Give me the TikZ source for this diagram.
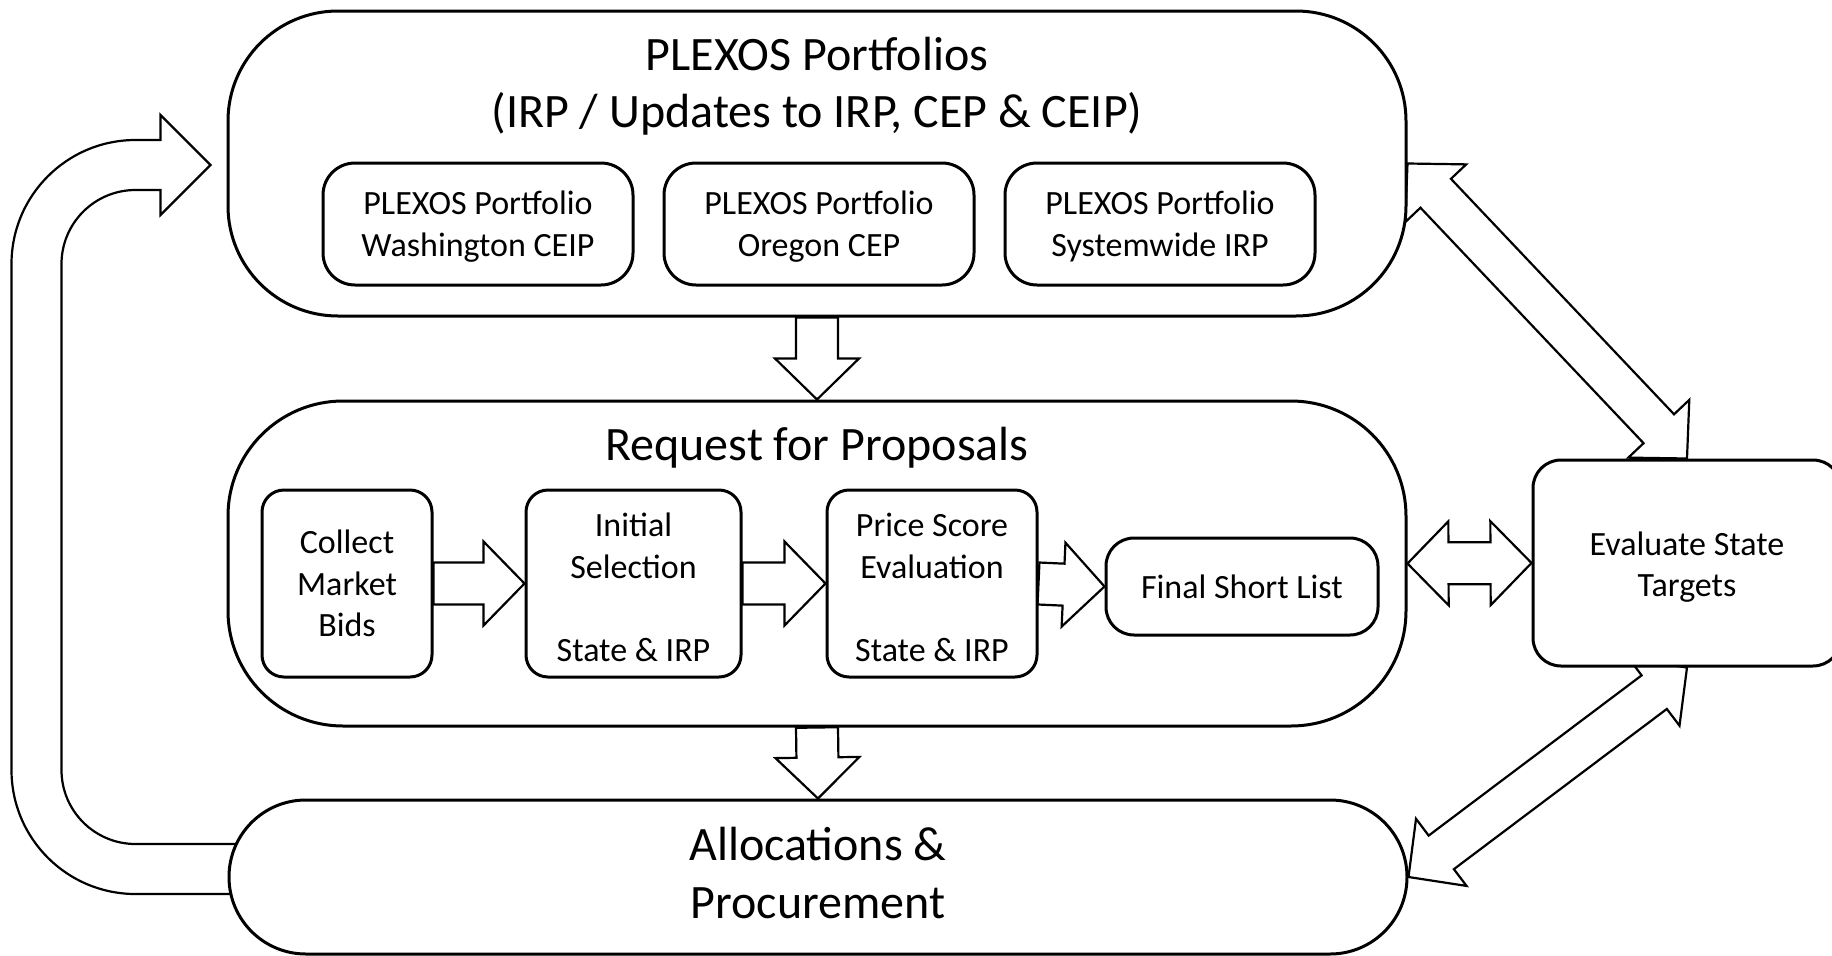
\documentclass[tikz,border=0pt]{standalone}
\usepackage{fontspec}
\setmainfont{Carlito}
\usetikzlibrary{calc}
\pgfdeclarelayer{bg}\pgfdeclarelayer{big}\pgfdeclarelayer{arr}
\pgfsetlayers{bg,big,arr,main}
\newcommand\bigfont{\fontsize{48}{58}\selectfont}
\newcommand\smallfont{\fontsize{34}{41.5}\selectfont}
\tikzset{
  bigbox/.style={draw, line width=3pt, fill=white, inner sep=0pt},
  smallbox/.style={draw, line width=3pt, fill=white, inner sep=0pt, align=center, font=\smallfont},
  smalltext/.style={inner sep=0pt, align=center, font=\smallfont},
  arrowline/.style={draw, line width=2.2pt, fill=white, line join=miter},
  bigtext/.style={font=\bigfont, inner sep=0pt, anchor=base},
  bigmtext/.style={font=\bigfont, inner sep=0pt, align=center},
}
% single-headed block arrow from #1 to tip #2
\newcommand\blockarr[2]{%
  \path ($(#2)!41pt!(#1)$) coordinate (bP);
  \draw[arrowline] ($(#1)!21pt!90:(#2)$) -- ($(bP)!21pt!90:(#2)$) -- ($(bP)!42pt!90:(#2)$) -- (#2)
    -- ($(bP)!42pt!-90:(#2)$) -- ($(bP)!21pt!-90:(#2)$) -- ($(#1)!21pt!-90:(#2)$) -- cycle;}
% double-headed block arrow between tips #1 and #2
\newcommand\dblarr[2]{%
  \path ($(#1)!41pt!(#2)$) coordinate (dP) ($(#2)!41pt!(#1)$) coordinate (dQ);
  \draw[arrowline] (#1) -- ($(dP)!42pt!90:(#2)$) -- ($(dP)!21pt!90:(#2)$)
    -- ($(dQ)!21pt!-90:(#1)$) -- ($(dQ)!42pt!-90:(#1)$) -- (#2)
    -- ($(dQ)!42pt!90:(#1)$) -- ($(dQ)!21pt!90:(#1)$)
    -- ($(dP)!21pt!-90:(#2)$) -- ($(dP)!42pt!-90:(#2)$) -- cycle;}
\begin{document}
\begin{tikzpicture}[x=1pt, y=-1pt]
\useasboundingbox (0,0) rectangle (1832,956);
\begin{pgfonlayer}{bg}
  \fill[white] (0,0) rectangle (1832,956);
\end{pgfonlayer}

% ---- large boxes ----
\begin{pgfonlayer}{big}
  \node[bigbox, minimum width=1178pt, minimum height=305pt, rounded corners=110pt] (top) at (817,163.5) {};
  \node[bigbox, minimum width=1178pt, minimum height=325pt, rounded corners=115pt] (mid) at (817,563.5) {};
  \node[bigbox, minimum width=1178pt, minimum height=154pt, rounded corners=76.9pt] (alloc) at (818,877) {};
  \node[smallbox, minimum width=308pt, minimum height=206pt, rounded corners=28pt] (eval) at (1687,563) {};
\end{pgfonlayer}

% ---- titles and big texts ----
\node[bigtext] (toptitle1) at (817,70.5) {PLEXOS Portfolios};
\node[bigtext] (toptitle2) at (817,127.5) {(IRP / Updates to IRP, CEP \& CEIP)};
\node[bigtext] (midtitle) at (817,460) {Request for Proposals};
\node[bigmtext] (allocT) at ($(alloc.center)+(0,-4)$) {Allocations \&\\Procurement};
\node[smalltext] (evalT) at ($(eval.center)+(0,4)$) {Evaluate State\\Targets};

% ---- inner boxes ----
\tikzset{pbox/.style={smallbox, minimum width=310pt, minimum height=122pt, rounded corners=32pt}}
\node[pbox] (wa) at (478,224) {};
\node[pbox] (or) at (819,224) {};
\node[pbox] (sw) at (1160,224) {};
\node[smalltext] (waT) at ($(wa.center)+(0,2.5)$) {PLEXOS Portfolio\\Washington CEIP};
\node[smalltext] (orT) at ($(or.center)+(0,2.5)$) {PLEXOS Portfolio\\Oregon CEP};
\node[smalltext] (swT) at ($(sw.center)+(0,2.5)$) {PLEXOS Portfolio\\Systemwide IRP};

\tikzset{rbox/.style={smallbox, minimum height=187pt, rounded corners=22pt}}
\node[rbox, minimum width=170pt] (collect) at (347,583.5) {Collect\\Market\\Bids};
\node[rbox, minimum width=215pt] (init) at (633.5,583.5) {};
\node[rbox, minimum width=210pt] (price) at (932,583.5) {};
\node[smalltext] (initT) at ($(init.center)+(0,4)$) {Initial\\Selection\\\mbox{}\\State \& IRP};
\node[smalltext] (priceT) at ($(price.center)+(0,4)$) {Price Score\\Evaluation\\\mbox{}\\State \& IRP};
\node[smallbox, minimum width=272pt, minimum height=97pt, rounded corners=28pt] (final) at (1242,586.5) {Final Short List};

% ---- big connectors (behind boxes) ----
\begin{pgfonlayer}{bg}
  \blockarr{top.south}{mid.north}
  \blockarr{mid.south}{alloc.north}
  \dblarr{top.east}{eval.north}
  \dblarr{eval.south}{alloc.east}
  \dblarr{mid.east}{eval.west}
  % loop arrow from Allocations back to PLEXOS Portfolios
  \coordinate (cT) at ($(top.west)+(-16,1.5)$);
  \draw[arrowline] (cT) -- ++(-50,-50) -- ++(0,25) -- ++(-25,0)
    arc[start angle=90, end angle=180, radius=124pt] -- ++(0,506)
    arc[start angle=180, end angle=270, radius=124pt] -- ++(143,0) -- ++(0,-50) -- ++(-143,0)
    arc[start angle=270, end angle=180, radius=74pt] -- ++(0,-506)
    arc[start angle=180, end angle=90, radius=74pt] -- ++(25,0) -- ++(0,25) -- cycle;
\end{pgfonlayer}

% ---- inner connectors ----
\begin{pgfonlayer}{arr}
  \blockarr{collect.east}{init.west}
  \blockarr{init.east}{price.west}
  \blockarr{price.east}{final.west}
\end{pgfonlayer}
\end{tikzpicture}
\end{document}
